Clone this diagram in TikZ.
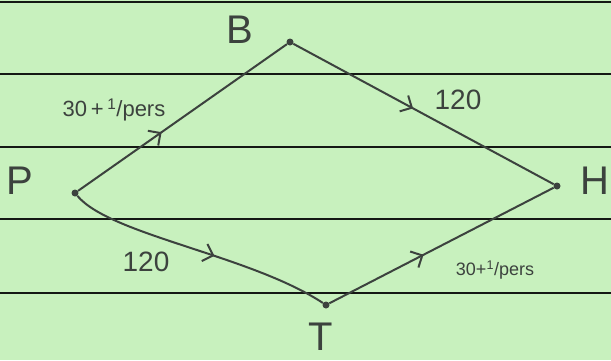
\documentclass[tikz,border=0pt]{standalone}
\usepackage{fontspec}
\setmainfont{Liberation Sans}
\usetikzlibrary{decorations.markings,arrows.meta}
\definecolor{paper}{RGB}{200,241,190}
\definecolor{ink}{RGB}{60,66,62}
\definecolor{rule}{RGB}{20,24,20}
\tikzset{
  vertex/.style={circle,fill=ink,inner sep=0pt,minimum size=7pt},
  vlabel/.style={text=ink,font=\fontsize{40}{40}\selectfont\mdseries,inner sep=0pt},
  elabel/.style={text=ink,font=\fontsize{22}{22}\selectfont,inner sep=1pt},
  nlabel/.style={text=ink,font=\fontsize{28}{28}\selectfont,inner sep=1pt},
  slabel/.style={text=ink,font=\fontsize{18}{18}\selectfont,inner sep=1pt},
  edge/.style={draw=ink,line width=2pt},
  midarrow/.style={postaction={decorate},decoration={markings,mark=at position #1 with {\arrow{Straight Barb[length=9pt,width=18pt,line width=2pt]}}}},
  ruling/.style={draw=rule,line width=2.6pt}
}
\begin{document}
\begin{tikzpicture}[x=1pt,y=-1pt]
\fill[paper] (0,0) rectangle (611,360);
\useasboundingbox (0,0) rectangle (611,360);
\foreach \yy in {2,74,147,219,293} \draw[ruling] (0,\yy) -- (611,\yy);
\node[vertex] (P) at (75,193) {};
\node[vertex] (B) at (290,42) {};
\node[vertex] (H) at (557,186) {};
\node[vertex] (T) at (326,305) {};
\node[vlabel] (lP) at (20,181) {P};
\node[vlabel] (lB) at (240,30) {B};
\node[vlabel] (lH) at (595,181) {H};
\node[vlabel] (lT) at (321,337) {T};
\draw[edge,midarrow=0.4] (P) -- (B);
\draw[edge,midarrow=0.46] (B) -- (H);
\draw[edge,midarrow=0.56] (P) .. controls (110,235) and (250,255) .. (T);
\draw[edge,midarrow=0.42] (T) -- (H);
\node[elabel] (e1) at (114,110) {30\,+\,\textsuperscript{1}/pers};
\node[nlabel] (e2) at (458,100) {120};
\node[nlabel] (e3) at (146,262) {120};
\node[slabel] (e4) at (495,270) {30+\textsuperscript{1}/pers};
\end{tikzpicture}
\end{document}
